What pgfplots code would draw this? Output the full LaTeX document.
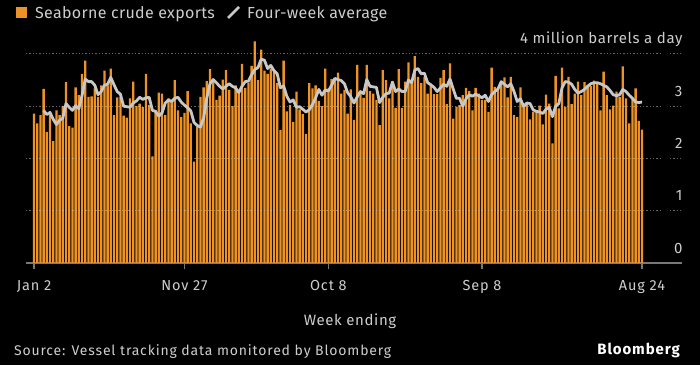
\documentclass[border=0pt]{standalone}
\usepackage{pgfplots}
\pgfplotsset{compat=1.18}
\usepackage{pgfplotstable}
\usetikzlibrary{backgrounds}
\usepackage{fontspec}
\setmainfont{Fira Sans}[LetterSpace=2]
\newfontfamily\widesp{Fira Sans}[LetterSpace=6]
\newfontfamily\midsp{Fira Sans}[LetterSpace=4]
\definecolor{barc}{RGB}{236,146,38}
\definecolor{avgc}{RGB}{200,200,200}
\definecolor{txt}{RGB}{205,205,205}
\definecolor{gridc}{RGB}{200,200,200}
\definecolor{basec}{RGB}{120,120,120}

\pgfplotstableread{
x y
0 2.86
1 2.67
2 2.83
3 3.33
4 2.51
5 2.83
6 2.33
7 2.92
8 2.83
9 3.00
10 3.46
11 2.62
12 2.59
13 3.36
14 3.21
15 3.62
16 3.87
17 3.18
18 3.19
19 3.34
20 3.18
21 3.40
22 3.68
23 3.40
24 3.72
25 2.83
26 3.17
27 3.18
28 2.82
29 2.78
30 3.15
31 3.47
32 3.00
33 3.05
34 2.98
35 3.62
36 3.02
37 2.04
38 2.92
39 3.26
40 3.24
41 2.83
42 3.15
43 3.12
44 3.50
45 2.92
46 2.79
47 2.87
48 3.29
49 2.67
50 1.94
51 2.60
52 3.18
53 3.36
54 3.48
55 3.71
56 3.50
57 3.12
58 3.20
59 3.51
60 3.69
61 3.31
62 3.00
63 3.40
64 3.31
65 3.81
66 3.35
67 3.45
68 3.77
69 4.24
70 3.50
71 4.08
72 3.68
73 3.62
74 3.72
75 3.70
76 3.44
77 2.54
78 3.87
79 2.90
80 3.02
81 2.70
82 3.28
83 2.94
84 2.85
85 2.47
86 3.44
87 3.34
88 3.40
89 3.10
90 3.00
91 3.72
92 3.34
93 3.52
94 3.54
95 3.64
96 3.24
97 3.31
98 2.86
99 3.32
100 2.74
101 3.79
102 3.28
103 3.16
104 3.79
105 3.29
106 3.24
107 3.12
108 2.64
109 3.69
110 3.50
111 3.15
112 3.48
113 2.97
114 3.71
115 2.97
116 3.47
117 3.84
118 3.50
119 3.96
120 3.56
121 3.44
122 3.56
123 3.24
124 3.40
125 3.23
126 3.23
127 3.54
128 3.69
129 3.04
130 3.82
131 2.76
132 2.99
133 3.02
134 3.21
135 3.35
136 3.29
137 2.92
138 3.35
139 3.24
140 3.12
141 3.12
142 2.89
143 3.74
144 3.37
145 3.31
146 3.44
147 3.55
148 3.17
149 3.56
150 2.83
151 2.79
152 3.36
153 3.02
154 3.05
155 2.75
156 2.89
157 2.89
158 3.01
159 2.65
160 3.22
161 3.05
162 2.29
163 3.58
164 2.96
165 3.74
166 2.99
167 3.56
168 3.04
169 3.24
170 3.47
171 3.21
172 3.46
173 3.40
174 3.39
175 3.49
176 3.42
177 2.92
178 3.66
179 3.21
180 2.94
181 3.01
182 3.28
183 3.18
184 3.76
185 3.15
186 2.67
187 3.15
188 3.34
189 2.72
190 2.55
}\bars

\pgfplotstableread{
x a
3 2.92
4 2.84
5 2.88
6 2.75
7 2.65
8 2.73
9 2.77
10 3.05
11 2.98
12 2.92
13 3.01
14 2.95
15 3.20
16 3.52
17 3.47
18 3.47
19 3.40
20 3.22
21 3.28
22 3.40
23 3.42
24 3.55
25 3.41
26 3.28
27 3.23
28 3.00
29 2.99
30 2.98
31 3.06
32 3.10
33 3.17
34 3.13
35 3.16
36 3.17
37 2.92
38 2.90
39 2.81
40 2.87
41 3.06
42 3.12
43 3.09
44 3.15
45 3.17
46 3.08
47 3.02
48 2.97
49 2.91
50 2.69
51 2.63
52 2.60
53 2.77
54 3.16
55 3.43
56 3.51
57 3.45
58 3.38
59 3.33
60 3.38
61 3.43
62 3.38
63 3.35
64 3.26
65 3.38
66 3.47
67 3.48
68 3.60
69 3.70
70 3.74
71 3.90
72 3.88
73 3.72
74 3.78
75 3.68
76 3.62
77 3.35
78 3.39
79 3.19
80 3.08
81 3.12
82 2.98
83 2.99
84 2.94
85 2.89
86 2.93
87 3.03
88 3.16
89 3.32
90 3.21
91 3.31
92 3.29
93 3.40
94 3.53
95 3.51
96 3.49
97 3.43
98 3.26
99 3.18
100 3.06
101 3.18
102 3.28
103 3.24
104 3.51
105 3.38
106 3.37
107 3.36
108 3.07
109 3.17
110 3.24
111 3.25
112 3.46
113 3.28
114 3.33
115 3.28
116 3.28
117 3.50
118 3.45
119 3.69
120 3.72
121 3.62
122 3.63
123 3.45
124 3.41
125 3.36
126 3.28
127 3.35
128 3.42
129 3.38
130 3.52
131 3.33
132 3.15
133 3.15
134 3.00
135 3.14
136 3.22
137 3.19
138 3.23
139 3.20
140 3.16
141 3.21
142 3.09
143 3.22
144 3.28
145 3.33
146 3.47
147 3.42
148 3.37
149 3.43
150 3.28
151 3.09
152 3.14
153 3.00
154 3.06
155 3.05
156 2.93
157 2.90
158 2.89
159 2.86
160 2.94
161 2.98
162 2.80
163 3.00
164 3.05
165 3.35
166 3.47
167 3.46
168 3.42
169 3.32
170 3.25
171 3.28
172 3.32
173 3.38
174 3.43
175 3.45
176 3.45
177 3.43
178 3.40
179 3.37
180 3.30
181 3.22
182 3.20
183 3.22
184 3.32
185 3.28
186 3.21
187 3.15
188 3.08
189 3.07
190 3.08
}\avgs

\begin{document}
\begin{tikzpicture}[x=1pt,y=1pt]
\begin{axis}[
  width=656pt, height=230pt, scale only axis,
  xmin=-2.5, xmax=202.5, ymin=0, ymax=4.4,
  axis x line*=bottom, axis y line*=right,
  x axis line style={-, draw=basec, line width=1.3pt},
  y axis line style={draw=none},
  xtick={0,47,92,140,190},
  xticklabels={Jan 2,Nov 27,Oct 8,Sep 8,Aug 24},
  ytick={0,1,2,3,4},
  yticklabels={0,1,2,3,4 million barrels a day},
  tick align=outside, major tick length=6pt,
  xtick style={draw=basec, line width=1.2pt},
  ytick style={draw=none},
  xticklabel style={font=\widesp\fontsize{14.5}{17}\selectfont, text=txt, anchor=base, yshift=-21pt},
  yticklabel style={font=\midsp\fontsize{15}{18}\selectfont, text=txt, anchor=base east, xshift=-2pt, yshift=10pt},
  clip=false,
]
\coordinate (AO) at (rel axis cs:0,0);
\addplot[ybar, bar width=2.3pt, bar shift=0pt, fill=barc, draw=none] table[x=x,y=y]{\bars};
\pgfplotsinvokeforeach{1,2,3,4}{
  \draw[gridc, opacity=0.5, line width=1pt, dash pattern=on 1.3pt off 2pt] (axis cs:-2.5,#1) -- (axis cs:195.6,#1);
  \draw[gridc, opacity=0.5, line width=1pt, dash pattern=on 1.3pt off 2pt] (axis cs:198.8,#1) -- (axis cs:202.5,#1);
}
\addplot[avgc, line width=2.8pt, line join=round] table[x=x,y=a]{\avgs};
\end{axis}
\begin{scope}[shift={(AO)}, xshift=-26pt, yshift=-102pt]
% legend
\fill[barc] (16,347) rectangle (27,358);
\draw[avgc, line width=2.5pt] (228,347) -- (239,358);
\node[anchor=base west, inner sep=0, text=txt, font=\fontsize{16}{19}\selectfont] at (35,347) {Seaborne crude exports};
\node[anchor=base west, inner sep=0, text=txt, font=\fontsize{16}{19}\selectfont] at (247,347) {Four-week average};
% titles
\node[anchor=base, inner sep=0, text=txt, font=\midsp\fontsize{15}{18}\selectfont] at (350,40) {Week ending};
\node[anchor=base west, inner sep=0, text=txt, font=\widesp\fontsize{14}{17}\selectfont] at (14,10) {Source: Vessel tracking data monitored by Bloomberg};
\node[anchor=base east, inner sep=0, text=white, font=\widesp\bfseries\fontsize{15}{18}\selectfont] at (680,11) {Bloomberg};
\end{scope}
\begin{scope}[on background layer]
\fill[black] ([shift={(-26pt,-102pt)}]AO) rectangle ++(700pt,365pt);
\end{scope}
\pgfresetboundingbox
\path[use as bounding box] ([shift={(-26pt,-102pt)}]AO) rectangle ++(700pt,365pt);
\end{tikzpicture}
\end{document}
